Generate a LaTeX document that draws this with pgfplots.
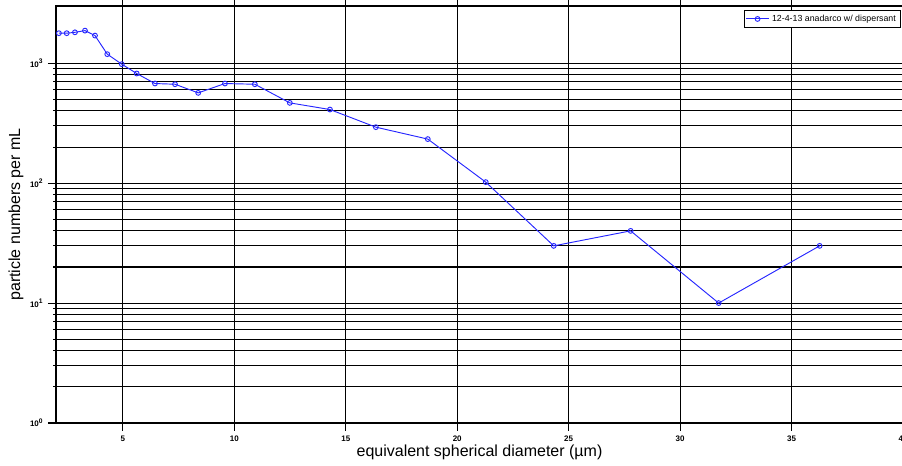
\documentclass[border=0pt]{standalone}
\usepackage{pgfplots}
\pgfplotsset{compat=1.18}
\usepackage{fontspec}
\setmainfont{Liberation Sans}
\begin{document}
\begin{tikzpicture}[x=1pt,y=1pt]
\begin{axis}[
  at={(0,0)}, anchor=south west,
  scale only axis,
  width=635.25pt, height=312.75pt,
  ymode=log,
  xmin=2, xmax=40, ymin=1, ymax=3000,
  xtick={5,10,15,20,25,30,35,40},
  ytick={1,10,100,1000},
  yticklabels={10\textsuperscript{0},10\textsuperscript{1},10\textsuperscript{2},10\textsuperscript{3}},
  /pgf/number format/assume math mode=true,
  tick label style={font=\fontsize{6}{7}\selectfont\bfseries},
  tick align=outside,
  major tick length=6pt, minor tick length=2pt,
  xmajorgrids, ymajorgrids, yminorgrids,
  major grid style={black, line width=0.8pt},
  minor grid style={black, line width=0.8pt},
  axis line style={black, line width=0.8pt},
  tick style={black, line width=0.8pt},
  xlabel={equivalent spherical diameter (µm)},
  ylabel={particle numbers per mL},
  label style={font=\fontsize{12}{14}\selectfont},
  xlabel style={yshift=4pt},
  ylabel style={yshift=-2pt},
  legend style={at={(0.997,0.99)}, anchor=north east, font=\fontsize{6.6}{7.5}\selectfont, draw=black, line width=0.5pt, inner sep=1.2pt},
  legend cell align=left,
]
\addplot[blue!85!white, line width=0.7pt, mark=o, mark size=1.8pt, mark options={line width=0.7pt}] coordinates {
(2.13,1780) (2.48,1780) (2.85,1810) (3.30,1870) (3.75,1700) (4.30,1190) (4.95,982) (5.62,821) (6.44,677) (7.34,668) (8.38,566) (9.58,677) (10.92,668) (12.49,467) (14.29,411) (16.35,293) (18.68,233) (21.28,102) (24.33,30) (27.78,40) (31.73,10) (36.26,30)
};
\addlegendentry{12-4-13 anadarco w/ dispersant}
\end{axis}
\pgfresetboundingbox
\useasboundingbox (-42pt,-31.5pt) rectangle (634.5pt,317.25pt);
\end{tikzpicture}
\end{document}
